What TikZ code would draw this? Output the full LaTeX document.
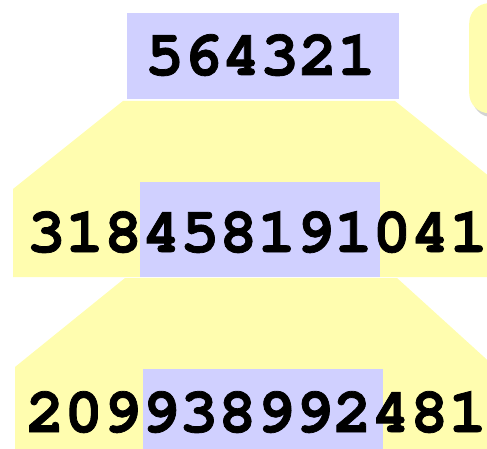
\documentclass[tikz,border=0pt]{standalone}
\usepackage{fontspec}
\newfontfamily\digfont{TeX Gyre Cursor}[BoldFeatures={FakeBold=1.2}]
\usetikzlibrary{shadows}
\definecolor{yel}{RGB}{255,253,175}
\definecolor{blu}{RGB}{208,208,255}
\tikzset{
  yelshape/.style={fill=yel, draw=none},
  blubox/.style={fill=blu, draw=none, inner sep=0pt, anchor=north west},
  digits/.style={font=\digfont\bfseries\fontsize{64}{64}\selectfont, inner sep=0pt, anchor=base}
}
\begin{document}
\begin{tikzpicture}[x=1pt,y=-1pt]
\useasboundingbox (0,0) rectangle (487,449);
\clip (0,0) rectangle (487,449);
% rounded note box at top right
\node[fill=yel, draw=none, rounded corners=20pt, minimum width=60pt, minimum height=110pt, anchor=north west,
      drop shadow={shadow xshift=3pt, shadow yshift=-4pt, opacity=0.35}] (note) at (469,3) {};
% top box
\node[blubox, minimum width=272pt, minimum height=86pt] (top) at (127,13) {};
% first fan-out
\fill[yelshape] (123,101) -- (395,101) -- (505,189) -- (505,277) -- (13,277) -- (13,189) -- cycle;
\node[blubox, minimum width=240pt, minimum height=95pt] (mid) at (140,182) {};
% second fan-out
\fill[yelshape] (125,278) -- (397,278) -- (495,367) -- (495,460) -- (15,460) -- (15,367) -- cycle;
\node[blubox, minimum width=240pt, minimum height=90pt] (bot) at (143,369) {};
% texts
\node[digits] (t0) at (260.5,75) {564321};
\node[digits] (t1) at (257.5,252) {318458191041};
\node[digits] (t2) at (256.5,432) {209938992481};
\end{tikzpicture}
\end{document}
